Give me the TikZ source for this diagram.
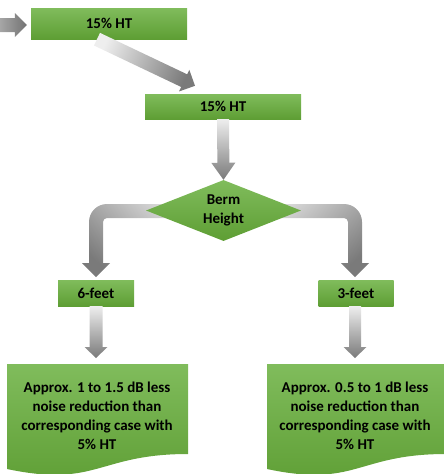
\documentclass[tikz,border=0pt]{standalone}
\usepackage{fontspec}
\setmainfont{Carlito}
\usetikzlibrary{calc,shapes.geometric}
\definecolor{gtop}{HTML}{80BC5C}
\definecolor{gbot}{HTML}{5E9E34}
\definecolor{alight}{HTML}{EEEEEE}
\definecolor{adark}{HTML}{7A7A7A}
\tikzset{
  txt/.style={font=\bfseries\fontsize{15}{19}\selectfont, text=black, align=center},
  greenfill/.style={top color=gtop, bottom color=gbot, draw=none},
  stepbox/.style={greenfill, txt, rectangle, inner sep=0pt},
  decision/.style={greenfill, txt, diamond, aspect=2.54, inner sep=0pt,
    minimum width=155pt, minimum height=61pt},
  downshade/.style={top color=alight, bottom color=adark, draw=none},
}
\newcommand\fatarrow[6]{%
  \coordinate (fah) at ($(#3)!#6!(#2)$);
  \path[#1] ($(#2)!#4!90:(#3)$) -- ($(fah)!#4!90:(#3)$) -- ($(fah)!#5!90:(#3)$)
    -- (#3) -- ($(fah)!#5!-90:(#3)$) -- ($(fah)!#4!-90:(#3)$)
    -- ($(#2)!#4!-90:(#3)$) -- cycle;
}
\begin{document}
\begin{tikzpicture}[x=1pt,y=-1pt]
\useasboundingbox (0,0) rectangle (444,474);

% boxes
\node[stepbox, minimum width=156pt, minimum height=31pt] (b1) at (109,23.5) {15\% HT};
\node[stepbox, minimum width=156pt, minimum height=25pt] (b2) at (223,106.5) {15\% HT};

% branch arrows (drawn before diamond)
\path[draw=none, top color=alight, bottom color=adark, shading angle=-40]
  (223,204) -- (107,204) .. controls (97,204) and (89,212) .. (89,222)
  -- (89,263) -- (82,263) -- (96,277) -- (110,263) -- (103,263)
  -- (103,222) .. controls (103,219.8) and (104.8,218) .. (107,218)
  -- (223,218) -- cycle;
\path[draw=none, top color=alight, bottom color=adark, shading angle=40]
  (224,204) -- (344,204) .. controls (354,204) and (362,212) .. (362,222)
  -- (362,263) -- (369,263) -- (355,277) -- (341,263) -- (348,263)
  -- (348,222) .. controls (348,219.8) and (346.2,218) .. (344,218)
  -- (224,218) -- cycle;

\node[decision] (dia) at (223.5,210.5) {Berm\\Height};

\node[stepbox, minimum width=76pt, minimum height=26pt] (f6) at (96,293) {6-feet};
\node[stepbox, minimum width=75pt, minimum height=26pt] (f3) at (356,293) {3-feet};

% documents
\path[greenfill] (7,364) -- (188,364) -- (188,454)
  .. controls (97.5,454) and (97.5,488) .. (7,469) -- cycle;
\node[txt] (d1) at (97,416) {Approx. 1 to 1.5 dB less\\noise reduction than\\corresponding case with\\5\% HT};
\path[greenfill] (267,364) -- (446,364) -- (446,454)
  .. controls (356.5,454) and (356.5,488) .. (267,469) -- cycle;
\node[txt] (d2) at (355,416) {Approx. 0.5 to 1 dB less\\noise reduction than\\corresponding case with\\5\% HT};

% straight arrows
\coordinate (in0) at (0,25);
\coordinate (in1) at ($(b1.west)+(-4,1.5)$);
\fatarrow{draw=none, left color=black!35, right color=black!55}{in0}{in1}{7pt}{12pt}{12pt}
\coordinate (s1) at ($(b1.south)+(-12,0)$);
\coordinate (t1) at ($(b2.north)+(-28,-8)$);
\fatarrow{draw=none, top color=alight, bottom color=adark, shading angle=65}{s1}{t1}{7pt}{12pt}{12pt}
\fatarrow{downshade}{b2.south}{dia.north}{6pt}{12pt}{17pt}
\coordinate (t6) at ($(d1.north)+(-1,-10)$);
\coordinate (s6) at (f6.south);
\coordinate (t6b) at (s6 |- 0,358);
\fatarrow{downshade}{s6}{t6b}{6.5pt}{11.5pt}{11pt}
\coordinate (s3) at ($(f3.south)+(-1,0)$);
\coordinate (t3b) at (s3 |- 0,358);
\fatarrow{downshade}{s3}{t3b}{6pt}{11.5pt}{11pt}
\end{tikzpicture}
\end{document}
